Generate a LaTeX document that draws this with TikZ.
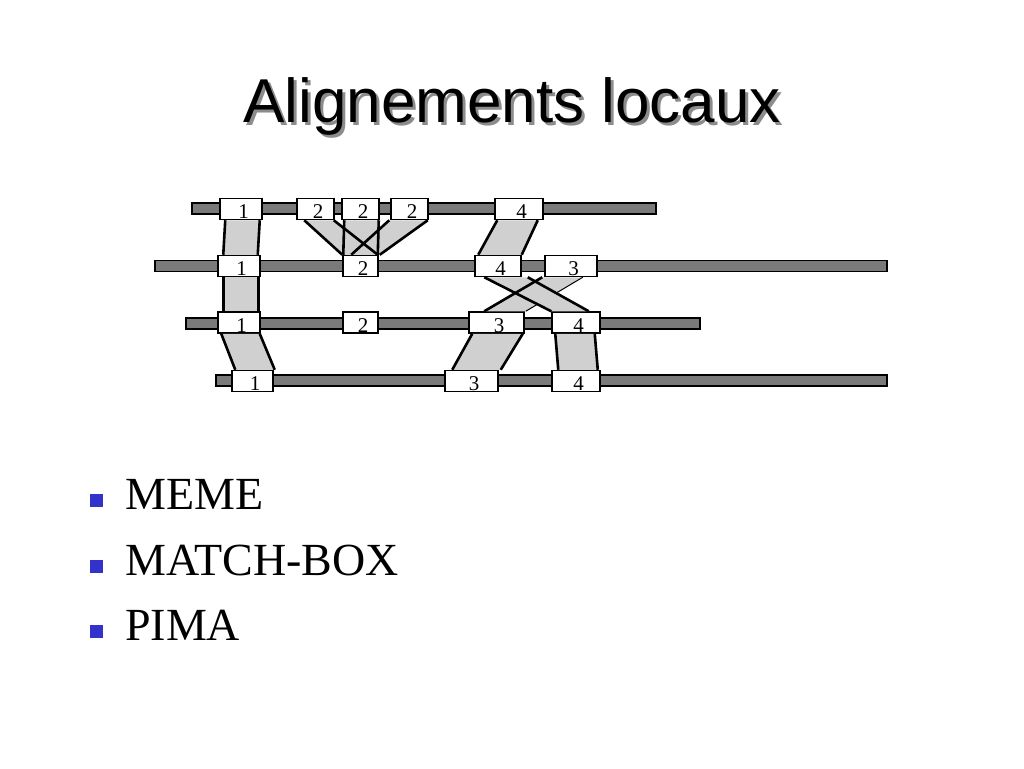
\documentclass[tikz,border=0pt]{standalone}
\usepackage{fontspec}
\setmainfont{Liberation Serif}
\newfontfamily\titlefont{Liberation Sans}
\usetikzlibrary{calc}
\definecolor{bargray}{HTML}{7A7A7A}
\definecolor{bandgray}{HTML}{D0D0D0}
\definecolor{bulletblue}{HTML}{3333CC}
\newcommand\bandfillpath[4]{\path[bandfill] #1 -- #2 -- #3 -- #4 -- cycle;}
\newcommand\bandedgepath[4]{\draw[bandedge] #1 -- #4 #2 -- #3;}
\begin{document}
\begin{tikzpicture}[x=1pt,y=-1pt,
  seqbar/.style={draw=black,line width=1.5pt,fill=bargray,inner sep=0pt,minimum height=11pt},
  segbox/.style={draw=black,line width=1.5pt,fill=white,inner sep=0pt,minimum height=21pt,
    font=\fontsize{21}{21}\selectfont,text height=19pt,text depth=0pt},
  bandfill/.style={fill=bandgray},
  bandedge/.style={draw=black,line width=2.6pt},
  titletext/.style={font=\titlefont\fontsize{62}{62}\selectfont,anchor=base,inner sep=0pt},
  bulletsq/.style={fill=bulletblue,minimum size=13pt,inner sep=0pt},
  itemtext/.style={anchor=base west,font=\fontsize{46}{46}\selectfont,inner sep=0pt},
]
\useasboundingbox (0,0) rectangle (1024,768);

% title
\node[titletext,text=black!45] (titleshadow) at (515,125) {Alignements locaux};
\node[titletext,text=black] (title) at (512,122) {Alignements locaux};

% sequence bars
\node[seqbar,minimum width=464pt] (s1) at (424,208.5) {};
\node[seqbar,minimum width=732pt] (s2) at (521,266) {};
\node[seqbar,minimum width=514pt] (s3) at (443,323.5) {};
\node[seqbar,minimum width=671pt] (s4) at (551.5,380.5) {};

% segment boxes
\node[segbox,minimum width=42pt] (a1) at (241,209) {\hspace*{5pt}1};
\node[segbox,minimum width=37pt] (a2a) at (315.5,209) {\hspace*{5pt}2};
\node[segbox,minimum width=37pt] (a2b) at (360.5,209) {\hspace*{5pt}2};
\node[segbox,minimum width=37pt] (a2c) at (409.5,209) {\hspace*{5pt}2};
\node[segbox,minimum width=48pt] (a4) at (519,209) {\hspace*{5pt}4};

\node[segbox,minimum width=42pt] (b1) at (239,266) {\hspace*{5pt}1};
\node[segbox,minimum width=35pt] (b2) at (360.5,266) {\hspace*{5pt}2};
\node[segbox,minimum width=46pt] (b4) at (498,266) {\hspace*{5pt}4};
\node[segbox,minimum width=52pt] (b3) at (571,266) {\hspace*{5pt}3};

\node[segbox,minimum width=42pt] (c1) at (239,322.5) {\hspace*{5pt}1};
\node[segbox,minimum width=35pt] (c2) at (360.5,322.5) {\hspace*{5pt}2};
\node[segbox,minimum width=55pt] (c3) at (496.5,322.5) {\hspace*{5pt}3};
\node[segbox,minimum width=48pt] (c4) at (576,322.5) {\hspace*{5pt}4};

\node[segbox,minimum width=41pt] (d1) at (252.5,381) {\hspace*{5pt}1};
\node[segbox,minimum width=53pt] (d3) at (471.5,381) {\hspace*{5pt}3};
\node[segbox,minimum width=48pt] (d4) at (576,381) {\hspace*{5pt}4};

% band fills
\bandfillpath{([xshift=6pt]a1.south west)}{([xshift=-3pt]a1.south east)}{([xshift=-3pt]b1.north east)}{([xshift=6pt]b1.north west)}
\bandfillpath{([xshift=6pt]b1.south west)}{([xshift=-2pt]b1.south east)}{([xshift=-2pt]c1.north east)}{([xshift=6pt]c1.north west)}
\bandfillpath{([xshift=4pt]c1.south west)}{([xshift=-1pt]c1.south east)}{([xshift=1pt]d1.north east)}{([xshift=4pt]d1.north west)}
\bandfillpath{([xshift=3pt]a2b.south west)}{([xshift=-1pt]a2b.south east)}{([xshift=-1pt]b2.north east)}{([xshift=1pt]b2.north west)}
\bandfillpath{([xshift=8pt]a2a.south west)}{([xshift=-1pt]a2a.south east)}{([xshift=-1pt]b2.north east)}{([xshift=0pt]b2.north west)}
\bandfillpath{([xshift=-1pt]a2c.south west)}{([xshift=-1pt]a2c.south east)}{([xshift=1pt]b2.north east)}{([xshift=9pt]b2.north west)}
\bandfillpath{([xshift=3pt]a4.south west)}{([xshift=-6pt]a4.south east)}{([xshift=0pt]b4.north east)}{([xshift=4pt]b4.north west)}
\bandfillpath{([xshift=-2pt]b3.south west)}{([xshift=-15pt]b3.south east)}{([xshift=1pt]c3.north east)}{([xshift=16pt]c3.north west)}
\bandfillpath{([xshift=4pt]c3.south west)}{([xshift=-2pt]c3.south east)}{([xshift=2pt]d3.north east)}{([xshift=8pt]d3.north west)}
\bandfillpath{([xshift=4pt]c4.south west)}{([xshift=-6pt]c4.south east)}{([xshift=-3pt]d4.north east)}{([xshift=7pt]d4.north west)}

% band edges
\bandedgepath{([xshift=6pt]a1.south west)}{([xshift=-3pt]a1.south east)}{([xshift=-3pt]b1.north east)}{([xshift=6pt]b1.north west)}
\bandedgepath{([xshift=6pt]b1.south west)}{([xshift=-2pt]b1.south east)}{([xshift=-2pt]c1.north east)}{([xshift=6pt]c1.north west)}
\bandedgepath{([xshift=4pt]c1.south west)}{([xshift=-1pt]c1.south east)}{([xshift=1pt]d1.north east)}{([xshift=4pt]d1.north west)}
\bandedgepath{([xshift=3pt]a2b.south west)}{([xshift=-1pt]a2b.south east)}{([xshift=-1pt]b2.north east)}{([xshift=1pt]b2.north west)}
\bandedgepath{([xshift=8pt]a2a.south west)}{([xshift=-1pt]a2a.south east)}{([xshift=-1pt]b2.north east)}{([xshift=0pt]b2.north west)}
\bandedgepath{([xshift=-1pt]a2c.south west)}{([xshift=-1pt]a2c.south east)}{([xshift=1pt]b2.north east)}{([xshift=9pt]b2.north west)}
\bandedgepath{([xshift=3pt]a4.south west)}{([xshift=-6pt]a4.south east)}{([xshift=0pt]b4.north east)}{([xshift=4pt]b4.north west)}
\draw[line width=1pt] ([xshift=-15pt]b3.south east) -- ([xshift=1pt]c3.north east);
\bandedgepath{([xshift=4pt]c3.south west)}{([xshift=-2pt]c3.south east)}{([xshift=2pt]d3.north east)}{([xshift=8pt]d3.north west)}
\bandedgepath{([xshift=4pt]c4.south west)}{([xshift=-6pt]c4.south east)}{([xshift=-3pt]d4.north east)}{([xshift=7pt]d4.north west)}

% crossing band 4 -> 4 on top
\bandfillpath{([xshift=10pt]b4.south west)}{([xshift=6pt]b4.south east)}{([xshift=-12pt]c4.north east)}{([xshift=0pt]c4.north west)}
\bandedgepath{([xshift=10pt]b4.south west)}{([xshift=6pt]b4.south east)}{([xshift=-12pt]c4.north east)}{([xshift=0pt]c4.north west)}
\draw[bandedge] ([xshift=-2pt]b3.south west) -- ([xshift=16pt]c3.north west);

% bullet list
\node[bulletsq] (m1) at (96,500.5) {};
\node[bulletsq] (m2) at (96,566) {};
\node[bulletsq] (m3) at (96,631) {};
\node[itemtext] (t1) at (125,509) {MEME};
\node[itemtext] (t2) at (125,575) {MATCH-BOX};
\node[itemtext] (t3) at (125,640) {PIMA};
\end{tikzpicture}
\end{document}
